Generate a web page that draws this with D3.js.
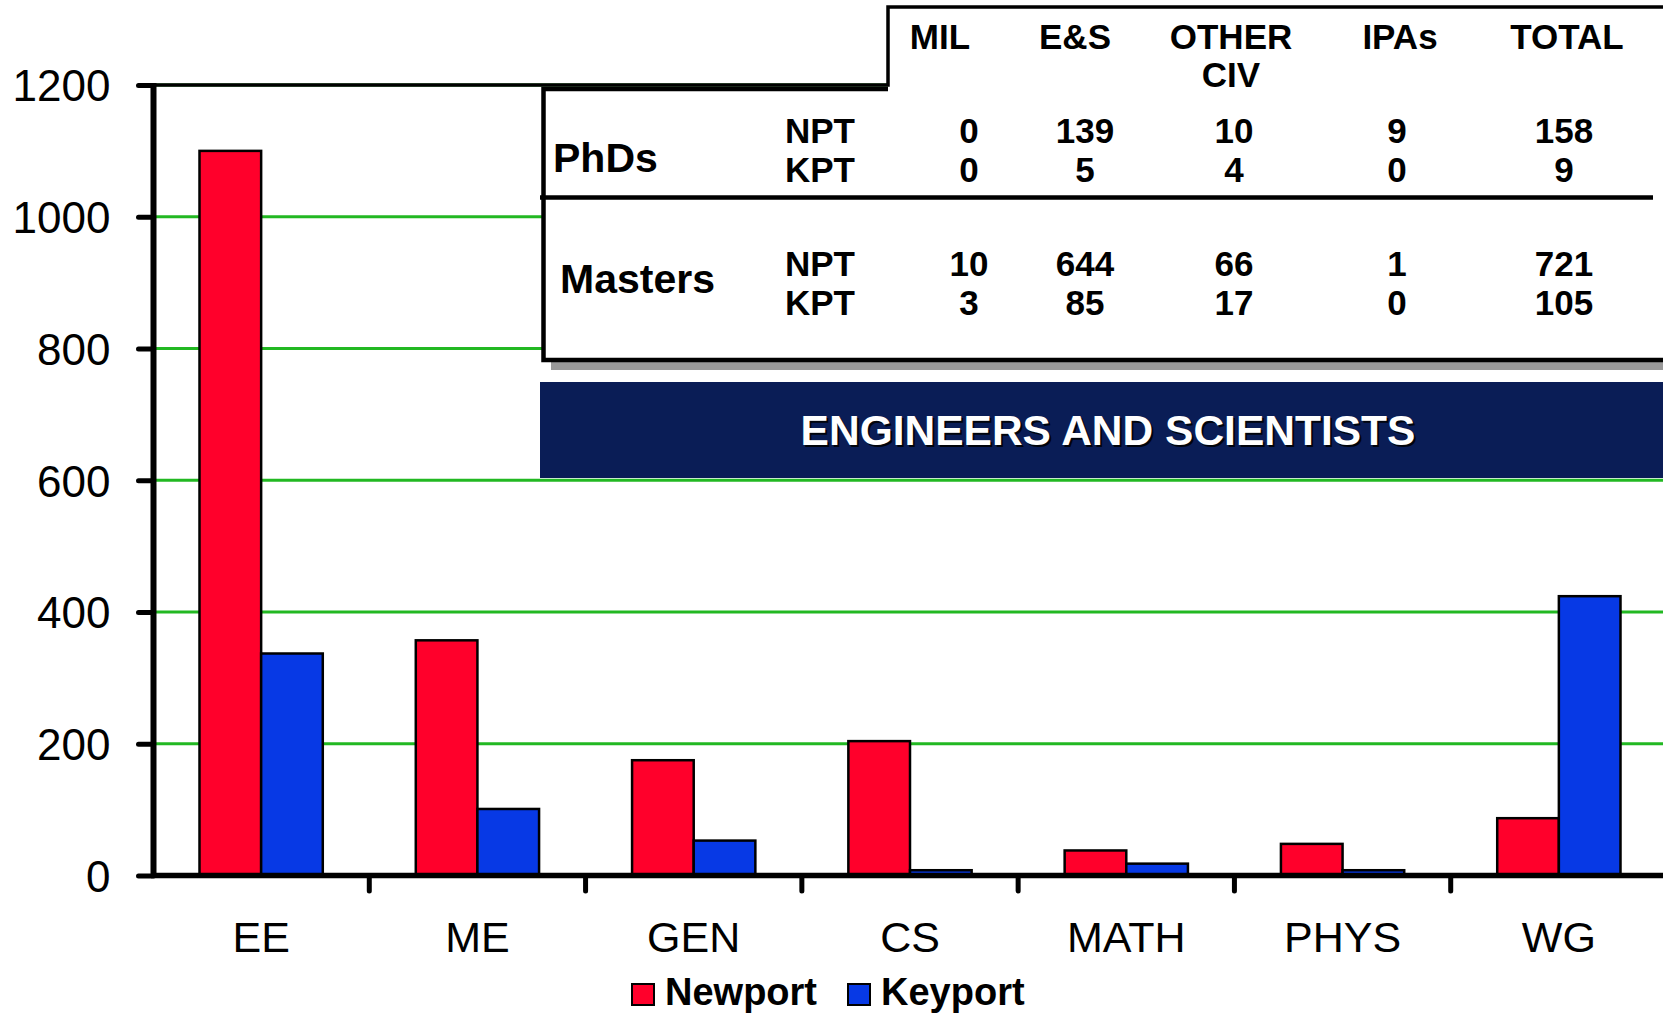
<!DOCTYPE html>
<html><head><meta charset="utf-8">
<script src="https://cdn.jsdelivr.net/npm/d3@7"></script>
<style>body{margin:0;background:#fff}svg{display:block;font-family:"Liberation Sans",Arial,sans-serif}</style>
</head><body>
<script>
const categories = ["EE","ME","GEN","CS","MATH","PHYS","WG"];
const seriesNames = ["Newport","Keyport"];
const newport = [1100,357,175,204,38,48,87];
const keyport = [337,101,53,8,18,8,424];
const yTicks = [0,200,400,600,800,1000,1200];
const tableHeaders = [["MIL"],["E&S"],["OTHER","CIV"],["IPAs"],["TOTAL"]];
const tableGroups = ["PhDs","Masters"];
const tableRowLabels = ["NPT","KPT"];
const phdNPT = [0,139,10,9,158];
const phdKPT = [0,5,4,0,9];
const mastersNPT = [10,644,66,1,721];
const mastersKPT = [3,85,17,0,105];
const bannerTitle = "ENGINEERS AND SCIENTISTS";
const colors = ["#ff002b","#0739e5"];

const W = 1663, H = 1013;
const svg = d3.select("body").append("svg").attr("width", W).attr("height", H);

const x0 = d3.scaleBand().domain(categories).range([153, 1667]).paddingInner(0.43).paddingOuter(0.215);
const x1 = d3.scaleBand().domain(seriesNames).range([0, x0.bandwidth()]);
const y = d3.scaleLinear().domain([0, 1200]).range([875.5, 85]);
const color = d3.scaleOrdinal().domain(seriesNames).range(colors);
const stepX = 888;

// gridlines
svg.append("g").selectAll("line").data(yTicks.filter(d => d > 0)).join("line")
  .attr("x1", 156).attr("x2", d => d === 1200 ? stepX : W).attr("y1", d => y(d)).attr("y2", d => y(d))
  .attr("stroke", "#22b822").attr("stroke-width", 3);

// bars
const data = categories.map((c, i) => ({cat: c, vals: [newport[i], keyport[i]]}));
svg.append("g").selectAll("g").data(data).join("g")
  .attr("transform", d => `translate(${x0(d.cat)},0)`)
  .selectAll("rect").data(d => d.vals.map((v, j) => ({s: seriesNames[j], v}))).join("rect")
  .attr("x", d => x1(d.s)).attr("y", d => y(d.v))
  .attr("width", x1.bandwidth()).attr("height", d => y(0) - y(d.v))
  .attr("fill", d => color(d.s)).attr("stroke", "#000").attr("stroke-width", 2.5);

// table shadow + box
const tbl = svg.append("g");
tbl.append("rect").attr("x", 551).attr("y", 97).attr("width", 1200).attr("height", 273).attr("fill", "#999");
tbl.append("rect").attr("x", 543.5).attr("y", 89).attr("width", 1200).attr("height", 271).attr("fill", "#fff");
tbl.append("path").attr("d", `M${W + 10},360H543.5V89H${stepX}`)
  .attr("fill", "none").attr("stroke", "#000").attr("stroke-width", 4.5);
tbl.append("line").attr("x1", 540).attr("x2", 1653).attr("y1", 197.5).attr("y2", 197.5)
  .attr("stroke", "#000").attr("stroke-width", 4.5);
tbl.append("path").attr("d", `M${153},${y(1200)}H${stepX}V7H${W + 10}`)
  .attr("fill", "none").attr("stroke", "#000").attr("stroke-width", 3.5);

// headers
const headerX = [940, 1075, 1231, 1400, 1567];
const valueX = [969, 1085, 1234, 1397, 1564];
tableHeaders.forEach((lines, i) => {
  lines.forEach((t, k) => {
    tbl.append("text").attr("x", headerX[i]).attr("y", 49 + k * 38)
      .attr("text-anchor", "middle").attr("font-weight", "bold").attr("font-size", 35).text(t);
  });
});
// group labels
tbl.append("text").attr("x", 553).attr("y", 172).attr("font-weight", "bold").attr("font-size", 41).text(tableGroups[0]);
tbl.append("text").attr("x", 560).attr("y", 293).attr("font-weight", "bold").attr("font-size", 41).text(tableGroups[1]);
const rows = [
  {label: tableRowLabels[0], vals: phdNPT, yb: 143},
  {label: tableRowLabels[1], vals: phdKPT, yb: 182},
  {label: tableRowLabels[0], vals: mastersNPT, yb: 276},
  {label: tableRowLabels[1], vals: mastersKPT, yb: 315}
];
rows.forEach(r => {
  tbl.append("text").attr("x", 785).attr("y", r.yb).attr("font-weight", "bold").attr("font-size", 35).text(r.label);
  r.vals.forEach((v, i) => {
    tbl.append("text").attr("x", valueX[i]).attr("y", r.yb).attr("text-anchor", "middle")
      .attr("font-weight", "bold").attr("font-size", 35).text(v);
  });
});

// banner
svg.append("rect").attr("x", 540).attr("y", 382).attr("width", 1130).attr("height", 96).attr("fill", "#0a1d56");
svg.append("text").attr("x", 1110).attr("y", 447).attr("text-anchor", "middle").attr("font-weight", "bold")
  .attr("font-size", 42.5).attr("fill", "#000").attr("opacity", 0.85).text(bannerTitle);
svg.append("text").attr("x", 1108).attr("y", 445).attr("text-anchor", "middle").attr("font-weight", "bold")
  .attr("font-size", 42.5).attr("fill", "#fff").text(bannerTitle);

// y axis
const yAxis = svg.append("g").attr("transform", "translate(153.5,0)")
  .call(d3.axisLeft(y).tickValues(yTicks).tickSize(15).tickPadding(28).tickFormat(d3.format("d")));
yAxis.select(".domain").remove();
yAxis.selectAll(".tick line").attr("stroke", "#000").attr("stroke-width", 5).attr("stroke-linecap", "round");
yAxis.selectAll(".tick text").attr("font-size", 44).attr("font-family", "'Liberation Sans', Arial, sans-serif")
  .attr("fill", "#000").attr("dy", "0.36em");
svg.append("line").attr("x1", 153.5).attr("x2", 153.5).attr("y1", 83).attr("y2", 878)
  .attr("stroke", "#000").attr("stroke-width", 6);

// x axis
svg.append("line").attr("x1", 151).attr("x2", W).attr("y1", 875.5).attr("y2", 875.5)
  .attr("stroke", "#000").attr("stroke-width", 5.5);
const step = x0.step();
svg.append("g").selectAll("line").data(categories.slice(1)).join("line")
  .attr("x1", d => x0(d) - (step - x0.bandwidth()) / 2).attr("x2", d => x0(d) - (step - x0.bandwidth()) / 2)
  .attr("y1", 876).attr("y2", 891).attr("stroke", "#000").attr("stroke-width", 5).attr("stroke-linecap", "round");
svg.append("g").selectAll("text").data(categories).join("text")
  .attr("x", d => x0(d) + x0.bandwidth() / 2).attr("y", 952).attr("text-anchor", "middle")
  .attr("font-size", 43).text(d => d);

// legend
const legX = [632, 848];
const lg = svg.append("g");
seriesNames.forEach((s, i) => {
  lg.append("rect").attr("x", legX[i]).attr("y", 984).attr("width", 22).attr("height", 21)
    .attr("fill", color(s)).attr("stroke", "#000").attr("stroke-width", 2);
  lg.append("text").attr("x", legX[i] + 33).attr("y", 1005).attr("font-weight", "bold").attr("font-size", 38).text(s);
});
</script>
</body></html>
